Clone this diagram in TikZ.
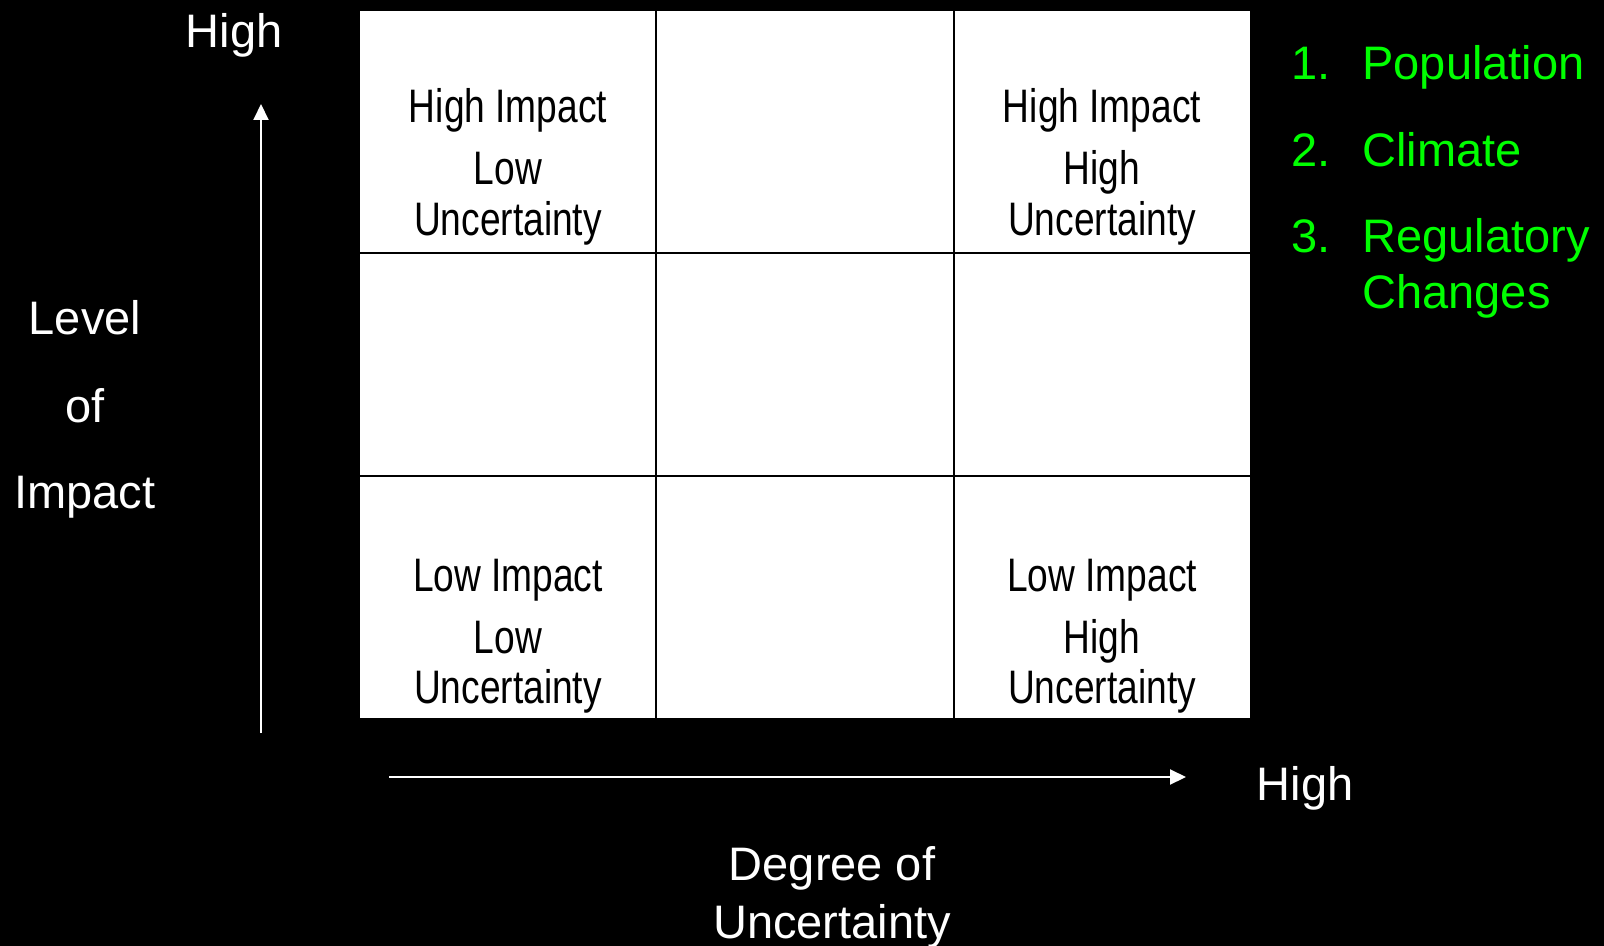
\documentclass[tikz,border=0pt]{standalone}
\usepackage{fontspec}
\setmainfont{Liberation Sans}
\newfontfamily\narrowfont[FakeStretch=0.79]{Liberation Sans}
\usetikzlibrary{arrows.meta}
\definecolor{listgreen}{RGB}{0,255,0}
\tikzset{
  cell/.style={anchor=base,inner sep=0pt,text=black,font=\narrowfont\fontsize{23.5pt}{28pt}\selectfont},
  axislabel/.style={anchor=base,inner sep=0pt,text=white,font=\fontsize{23.5pt}{28pt}\selectfont},
  listitem/.style={anchor=base west,inner sep=0pt,text=listgreen,font=\fontsize{23.5pt}{28pt}\selectfont},
  gridline/.style={black,line width=1.3pt},
  axis/.style={white,line width=1pt,->}
}
\begin{document}
\begin{tikzpicture}[x=0.5pt,y=-0.5pt,>={Triangle[length=8pt,width=7.5pt]},line join=round]
		\fill[black] (0,0) rectangle (1604,946);
		\useasboundingbox (0,0) rectangle (1604,946);
		% the 3x3 grid
		\fill[white] (360,11) rectangle (1250,718);
		\draw[gridline] (656,11)--(656,718) (954,11)--(954,718);
		\draw[gridline] (360,253)--(1250,253) (360,476)--(1250,476);
		% corner cells
		\foreach \nm/\cx/\ya/\yb/\yc/\ta/\tb in {hl/508/123/185/236/High Impact/Low, hh/1102/123/185/236/High Impact/High, ll/508/591/653/703/Low Impact/Low, lh/1102/591/653/703/Low Impact/High}{
			\node[cell] (\nm1) at (\cx,\ya) {\ta};
			\node[cell] (\nm2) at (\cx,\yb) {\tb};
			\node[cell] (\nm3) at (\cx,\yc) {Uncertainty};
		}
		% axes
		\coordinate (ybot) at (261,733);
		\coordinate (ytop) at (261,104);
		\coordinate (xleft) at (389,777);
		\coordinate (xright) at (1186,777);
		\draw[axis] (ybot)--(ytop);
		\draw[axis] (xleft)--(xright);
		\node[axislabel] (yhigh) at (234,48) {High};
		\node[axislabel] (ylev) at (85,335) {Level};
		\node[axislabel] (yof) at (85,422) {of};
		\node[axislabel] (yimp) at (85,508) {Impact};
		\node[axislabel] (xhigh) at (1305,800) {High};
		\node[axislabel] (xdeg) at (832,880) {Degree of};
		\node[axislabel] (xunc) at (832,938) {Uncertainty};
		% list of drivers
		\node[listitem] (n1) at (1291,80) {1.};
		\node[listitem] (pop) at (1362,80) {Population};
		\node[listitem] (n2) at (1291,167) {2.};
		\node[listitem] (clim) at (1362,167) {Climate};
		\node[listitem] (n3) at (1291,253) {3.};
		\node[listitem] (reg) at (1362,253) {Regulatory};
		\node[listitem] (chg) at (1362,308) {Changes};
\end{tikzpicture}
\end{document}
